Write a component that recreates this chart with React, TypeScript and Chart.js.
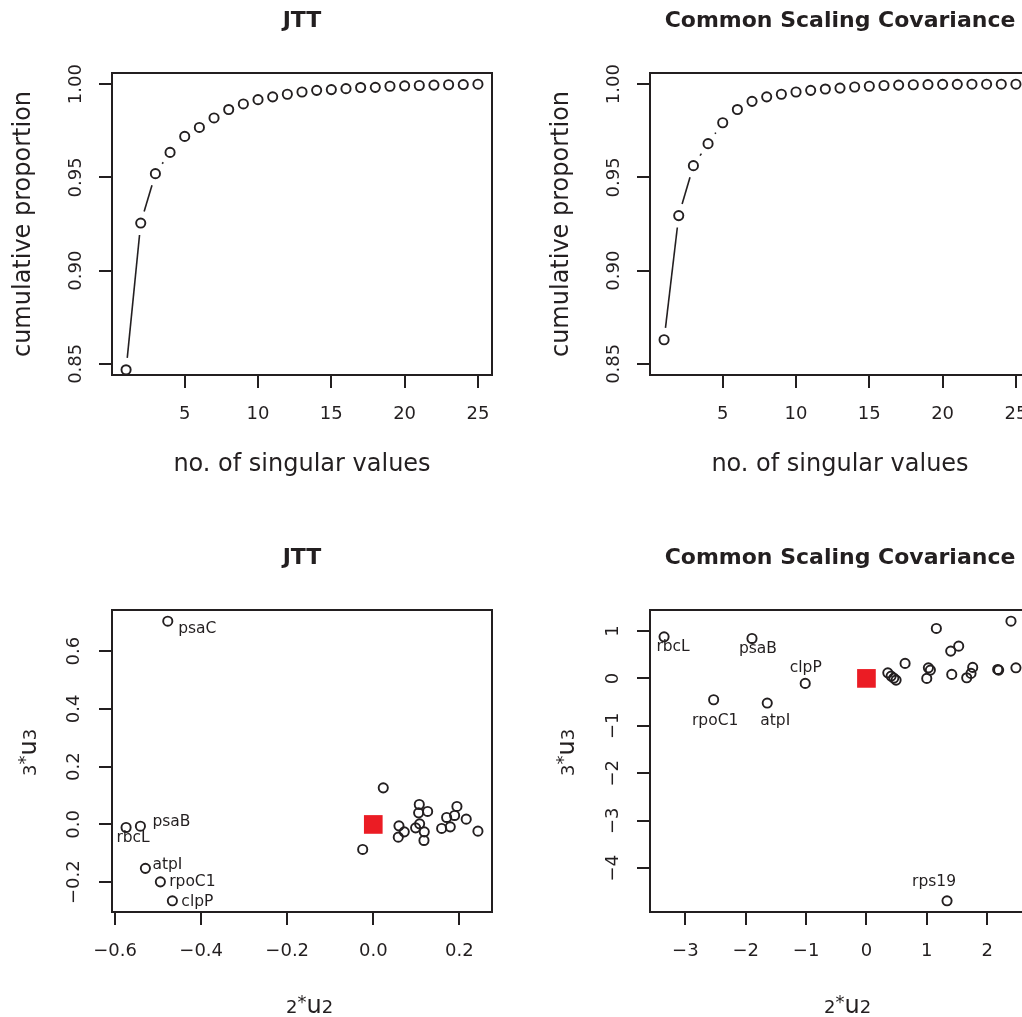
import React, { useEffect, useRef } from "react";
import { Chart, registerables } from "chart.js";

Chart.register(...registerables);

const FONT = "'DejaVu Sans', 'Liberation Sans', sans-serif";
const INK = "#231F20";
const RED = "#EB1C24";

// ---------- top panels: cumulative proportion ----------
const singularValueCounts = [1, 2, 3, 4, 5, 6, 7, 8, 9, 10, 11, 12, 13, 14, 15, 16, 17, 18, 19, 20, 21, 22, 23, 24, 25];
const jttCumulativeProportion = [
  0.8468, 0.9255, 0.952, 0.9634, 0.972, 0.9768, 0.9819, 0.9864, 0.9894, 0.9917, 0.9932, 0.9946, 0.9958,
  0.9967, 0.9971, 0.9976, 0.9982, 0.9983, 0.9989, 0.9991, 0.9993, 0.9995, 0.9997, 0.9998, 1.0,
];
const cscCumulativeProportion = [
  0.8629, 0.9295, 0.9563, 0.9681, 0.9793, 0.9864, 0.9908, 0.9932, 0.9946, 0.9958, 0.9967, 0.9974, 0.9979,
  0.9985, 0.9989, 0.9993, 0.9995, 0.9997, 0.9998, 0.9999, 0.9999, 1.0, 1.0, 1.0, 1.0,
];
const proportionLimits = [0.85, 1.0];
const proportionTickValues = [0.85, 0.9, 0.95, 1.0];
const proportionTickLabels = ["0.85", "0.90", "0.95", "1.00"];
const countTickValues = [5, 10, 15, 20, 25];
const countTickLabels = ["5", "10", "15", "20", "25"];

// ---------- bottom-left: JTT scores ----------
const jttLabeledGenes = ["psaC", "rbcL", "psaB", "atpI", "rpoC1", "clpP"];
const jttLabeledU2 = [-0.4776, -0.5745, -0.5412, -0.5296, -0.4948, -0.4669];
const jttLabeledU3 = [0.7035, -0.0104, -0.006, -0.152, -0.1986, -0.2643];
const jttOtherU2 = [
  0.0232, -0.0246, 0.0597, 0.072, 0.0581, 0.1069, 0.1054, 0.1263, 0.1077, 0.0984, 0.1185, 0.1178, 0.1589,
  0.1705, 0.1789, 0.189, 0.1944, 0.216, 0.2432,
];
const jttOtherU3 = [
  0.1266, -0.0865, -0.0048, -0.0256, -0.044, 0.0692, 0.0401, 0.045, 0.0021, -0.0118, -0.0256, -0.0554,
  -0.0138, 0.0242, -0.0083, 0.0311, 0.0623, 0.0183, -0.0232,
];
const jttU2TickValues = [-0.6, -0.4, -0.2, 0, 0.2];
const jttU2TickLabels = ["\u22120.6", "\u22120.4", "\u22120.2", "0.0", "0.2"];
const jttU3TickValues = [-0.2, 0, 0.2, 0.4, 0.6];
const jttU3TickLabels = ["\u22120.2", "0.0", "0.2", "0.4", "0.6"];

// ---------- bottom-right: common scaling covariance scores ----------
const cscLabeledGenes = ["rbcL", "psaB", "clpP", "rpoC1", "atpI", "rps19"];
const cscLabeledU2 = [-3.352, -1.896, -1.014, -2.531, -1.643, 1.335];
const cscLabeledU3 = [0.876, 0.842, -0.105, -0.45, -0.52, -4.688];
const cscOtherU2 = [
  0.354, 0.409, 0.453, 0.491, 0.64, 1.158, 1.396, 1.528, 1.026, 1.059, 0.999, 1.413, 1.661, 1.76, 1.732,
  2.174, 2.19, 2.394, 2.476,
];
const cscOtherU3 = [
  0.118, 0.048, 0.006, -0.036, 0.316, 1.053, 0.575, 0.68, 0.223, 0.175, 0.0, 0.084, 0.013, 0.232, 0.105,
  0.189, 0.175, 1.206, 0.223,
];
const cscU2TickValues = [-3, -2, -1, 0, 1, 2];
const cscU2TickLabels = ["\u22123", "\u22122", "\u22121", "0", "1", "2"];
const cscU3TickValues = [-4, -3, -2, -1, 0, 1];
const cscU3TickLabels = ["\u22124", "\u22123", "\u22122", "\u22121", "0", "1"];

const originU2 = [0];
const originU3 = [0];

const u2TitleParts = ["2", "*", "u", "2"];
const u3TitleParts = ["3", "*", "u", "3"];

// ---------- styling (pixel offsets for gene labels, relative to each point) ----------
const jttLabelOffsets = [[29.5, 8], [7, 10.5], [31, -4.5], [22, -3.5], [32, 0.5], [25, 1]];
const cscLabelOffsets = [[9, 10], [6, 10.5], [0.5, -15.5], [1.5, 21], [8, 17.5], [-13, -19]];
const titlePartSizes = [18, 18, 24, 18];
const titlePartRise = [0, 5, 0, 0];

const PANEL_W = 538;
const PANEL_H = 537;
const GAP = 12;

function rRange(vals: number[]) {
  const lo = Math.min(...vals);
  const hi = Math.max(...vals);
  const d = (hi - lo) * 0.04;
  return [lo - d, hi + d];
}

const boxPlugin = {
  id: "rbox",
  afterDraw(chart: any) {
    const { ctx, chartArea: a } = chart;
    ctx.save();
    ctx.strokeStyle = INK;
    ctx.lineWidth = 2;
    ctx.strokeRect(a.left, a.top, a.right - a.left, a.bottom - a.top);
    ctx.restore();
  },
};

const typeBPlugin = {
  id: "typeB",
  beforeDatasetsDraw(chart: any) {
    const ctx = chart.ctx;
    chart.data.datasets.forEach((ds: any, i: number) => {
      if (!ds.typeB) return;
      const pts = chart.getDatasetMeta(i).data;
      ctx.save();
      ctx.strokeStyle = INK;
      ctx.lineWidth = 1.6;
      for (let k = 0; k < pts.length - 1; k++) {
        const a = pts[k];
        const b = pts[k + 1];
        const dx = b.x - a.x;
        const dy = b.y - a.y;
        const len = Math.hypot(dx, dy);
        if (len <= 2 * GAP) continue;
        const ux = dx / len;
        const uy = dy / len;
        ctx.beginPath();
        ctx.moveTo(a.x + ux * GAP, a.y + uy * GAP);
        ctx.lineTo(b.x - ux * GAP, b.y - uy * GAP);
        ctx.stroke();
      }
      ctx.restore();
    });
  },
};

const labelPlugin = {
  id: "geneLabels",
  afterDatasetsDraw(chart: any) {
    const ctx = chart.ctx;
    chart.data.datasets.forEach((ds: any, i: number) => {
      if (!ds.pointNames) return;
      const pts = chart.getDatasetMeta(i).data;
      ctx.save();
      ctx.font = `15.5px ${FONT}`;
      ctx.fillStyle = INK;
      ctx.textAlign = "center";
      ctx.textBaseline = "middle";
      pts.forEach((p: any, k: number) => {
        const off = ds.nameOffsets[k];
        ctx.fillText(ds.pointNames[k], p.x + off[0], p.y + off[1]);
      });
      ctx.restore();
    });
  },
};

function drawParts(ctx: any, parts: string[]) {
  let x = 0;
  parts.forEach((t, i) => {
    ctx.font = `${titlePartSizes[i]}px ${FONT}`;
    ctx.fillText(t, x, -titlePartRise[i]);
    x += ctx.measureText(t).width;
  });
}

function makeCompositeTitles(xParts: string[], yParts: string[]) {
  return {
    id: "compositeTitles",
    afterDraw(chart: any) {
      const { ctx, chartArea: a } = chart;
      ctx.save();
      ctx.fillStyle = INK;
      ctx.textAlign = "left";
      ctx.textBaseline = "alphabetic";
      ctx.save();
      ctx.translate((a.left + a.right) / 2 - 16, a.bottom + 101);
      drawParts(ctx, xParts);
      ctx.restore();
      ctx.save();
      ctx.translate(35.5, (a.top + a.bottom) / 2 + 15);
      ctx.rotate(-Math.PI / 2);
      drawParts(ctx, yParts);
      ctx.restore();
      ctx.restore();
    },
  };
}

function axis(
  pos: "bottom" | "left",
  range: number[],
  tickVals: number[],
  tickLabels: string[],
  pad: number,
  title?: string
) {
  const horizontal = pos === "bottom";
  return {
    type: "linear",
    position: pos,
    min: range[0],
    max: range[1],
    afterBuildTicks: (s: any) => {
      s.ticks = tickVals.map((value) => ({ value }));
    },
    afterFit: (s: any) => {
      if (horizontal) s.height = 162;
      else s.width = 112;
    },
    grid: {
      display: true,
      drawOnChartArea: false,
      drawTicks: true,
      tickLength: 13,
      tickWidth: 2,
      tickColor: INK,
      color: INK,
      lineWidth: 2,
    },
    border: { display: false },
    ticks: {
      autoSkip: false,
      font: { family: FONT, size: 18 },
      color: INK,
      padding: pad,
      minRotation: horizontal ? 0 : 90,
      maxRotation: horizontal ? 0 : 90,
      crossAlign: horizontal ? "near" : "center",
      callback: (_v: any, i: number) => tickLabels[i],
    },
    title: title
      ? {
          display: true,
          text: title,
          color: INK,
          font: { family: FONT, size: 24 },
          padding: horizontal ? { top: 0, bottom: 58 } : { top: 9.6, bottom: 0 },
        }
      : { display: false },
  };
}

const circleStyle = {
  showLine: false,
  pointStyle: "circle",
  pointRadius: 4.6,
  pointBorderWidth: 1.9,
  pointBorderColor: INK,
  pointBackgroundColor: "rgba(0,0,0,0)",
};

function baseOptions(title: string, scales: any) {
  return {
    animation: false,
    responsive: false,
    devicePixelRatio: 1,
    events: [],
    layout: { padding: { left: 0, right: 46, top: 0, bottom: 0 } },
    plugins: {
      legend: { display: false },
      tooltip: { enabled: false },
      title: {
        display: true,
        text: title,
        fullSize: false,
        color: INK,
        font: { family: FONT, size: 22, weight: "bold" },
        padding: { top: 8.5, bottom: 38.1 },
      },
    },
    scales,
  };
}

function cumulativeConfig(title: string, values: number[]) {
  return {
    type: "scatter",
    data: {
      datasets: [
        {
          ...circleStyle,
          typeB: true,
          data: singularValueCounts.map((x, i) => ({ x, y: values[i] })),
        },
      ],
    },
    options: baseOptions(title, {
      x: axis("bottom", rRange(singularValueCounts), countTickValues, countTickLabels, 16, "no. of singular values"),
      y: axis("left", rRange(proportionLimits), proportionTickValues, proportionTickLabels, 3, "cumulative proportion"),
    }),
    plugins: [typeBPlugin, boxPlugin],
  };
}

function scoresConfig(
  title: string,
  labeledGenes: string[],
  labeledU2: number[],
  labeledU3: number[],
  otherU2: number[],
  otherU3: number[],
  offsets: number[][],
  xTicks: number[],
  xTickLabels: string[],
  yTicks: number[],
  yTickLabels: string[],
  yPad: number
) {
  const allU2 = [...labeledU2, ...otherU2];
  const allU3 = [...labeledU3, ...otherU3];
  return {
    type: "scatter",
    data: {
      datasets: [
        {
          showLine: false,
          pointStyle: "rect",
          pointRadius: 13.2,
          pointBorderWidth: 0,
          pointBackgroundColor: RED,
          pointBorderColor: RED,
          data: originU2.map((x, i) => ({ x, y: originU3[i] })),
        },
        {
          ...circleStyle,
          data: otherU2.map((x, i) => ({ x, y: otherU3[i] })),
        },
        {
          ...circleStyle,
          pointNames: labeledGenes,
          nameOffsets: offsets,
          data: labeledU2.map((x, i) => ({ x, y: labeledU3[i] })),
        },
      ],
    },
    options: baseOptions(title, {
      x: axis("bottom", rRange(allU2), xTicks, xTickLabels, 16),
      y: axis("left", rRange(allU3), yTicks, yTickLabels, yPad),
    }),
    plugins: [boxPlugin, labelPlugin, makeCompositeTitles(u2TitleParts, u3TitleParts)],
  };
}

function Panel({ left, top, build }: { left: number; top: number; build: () => any }) {
  const ref = useRef<HTMLCanvasElement>(null);
  useEffect(() => {
    const chart = new Chart(ref.current as HTMLCanvasElement, build());
    return () => chart.destroy();
  }, []);
  return (
    <div style={{ position: "absolute", left, top, width: PANEL_W, height: PANEL_H }}>
      <canvas ref={ref} width={PANEL_W} height={PANEL_H} style={{ display: "block" }} />
    </div>
  );
}

export default function App() {
  return (
    <div
      style={{
        position: "fixed",
        left: 0,
        top: 0,
        width: "100vw",
        height: "100vh",
        overflow: "hidden",
        background: "#ffffff",
      }}
    >
      <Panel left={0} top={0} build={() => cumulativeConfig("JTT", jttCumulativeProportion)} />
      <Panel
        left={PANEL_W}
        top={0}
        build={() => cumulativeConfig("Common Scaling Covariance", cscCumulativeProportion)}
      />
      <Panel
        left={0}
        top={PANEL_H}
        build={() =>
          scoresConfig(
            "JTT",
            jttLabeledGenes,
            jttLabeledU2,
            jttLabeledU3,
            jttOtherU2,
            jttOtherU3,
            jttLabelOffsets,
            jttU2TickValues,
            jttU2TickLabels,
            jttU3TickValues,
            jttU3TickLabels,
            3.2
          )
        }
      />
      <Panel
        left={PANEL_W}
        top={PANEL_H}
        build={() =>
          scoresConfig(
            "Common Scaling Covariance",
            cscLabeledGenes,
            cscLabeledU2,
            cscLabeledU3,
            cscOtherU2,
            cscOtherU3,
            cscLabelOffsets,
            cscU2TickValues,
            cscU2TickLabels,
            cscU3TickValues,
            cscU3TickLabels,
            10.2
          )
        }
      />
    </div>
  );
}
